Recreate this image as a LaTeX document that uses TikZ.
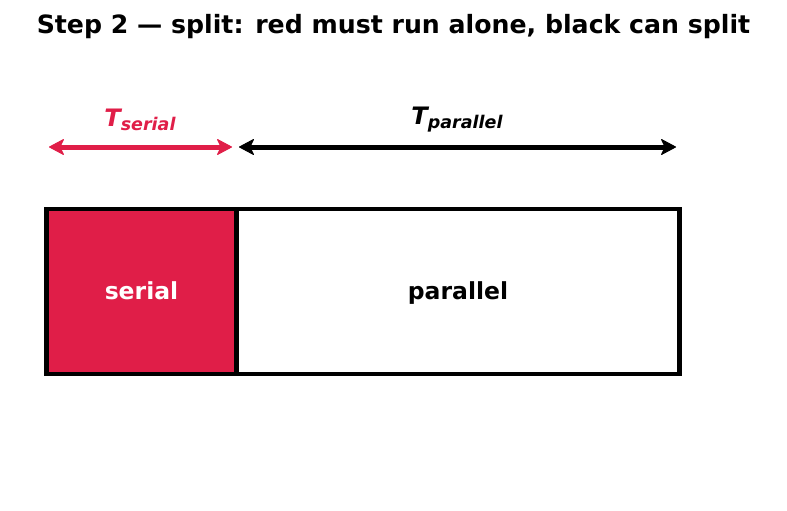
\documentclass[tikz,border=0pt]{standalone}
\usepackage{fontspec}
\setmainfont{DejaVu Sans}
\usepackage{xcolor}
\usetikzlibrary{arrows.meta, positioning}

\definecolor{serialred}{RGB}{224,30,72}

\begin{document}
\begin{tikzpicture}[
  x=1pt, y=-1pt,
  block/.style={draw=black, line width=4.5pt, minimum height=165pt, inner sep=0pt, outer sep=0pt,
                text height=21.6pt, text depth=5.2pt,
                font=\fontsize{23.5}{28}\selectfont\bfseries},
  tip/.tip={Stealth[length=16pt, width=17pt, inset=4pt, line join=round, line width=1pt]},
  span/.style={tip-tip, line width=5pt},
  tlabel/.style={font=\fontsize{24}{28}\selectfont\bfseries\itshape, inner sep=0pt}
]
\useasboundingbox (0,0) rectangle (787,511);
% title
\node[font=\fontsize{25.2}{30}\selectfont\bfseries] (title) at (393.5,26.5) {Step 2 — split: red must run alone, black can split};
% the two parts
\node[block, fill=serialred, text=white, minimum width=190pt] (serial) at (141.5,291.5) {serial};
\node[block, fill=white, minimum width=443pt, right=0pt of serial] (parallel) {parallel};
% spans
\coordinate (s1) at (49,147);
\coordinate (s2) at (232,147);
\coordinate (p1) at (239,147);
\coordinate (p2) at (676,147);
\draw[span, serialred] (s1) -- (s2);
\draw[span, black] (p1) -- (p2);
\node[tlabel, text=serialred] (tserial) at (140,120) {T\raisebox{-0.3ex}{\fontsize{17.5}{18}\selectfont serial}};
\node[tlabel] (tparallel) at (457,120) {T\raisebox{-0.3ex}{\fontsize{17.5}{18}\selectfont parallel}};
\end{tikzpicture}
\end{document}
